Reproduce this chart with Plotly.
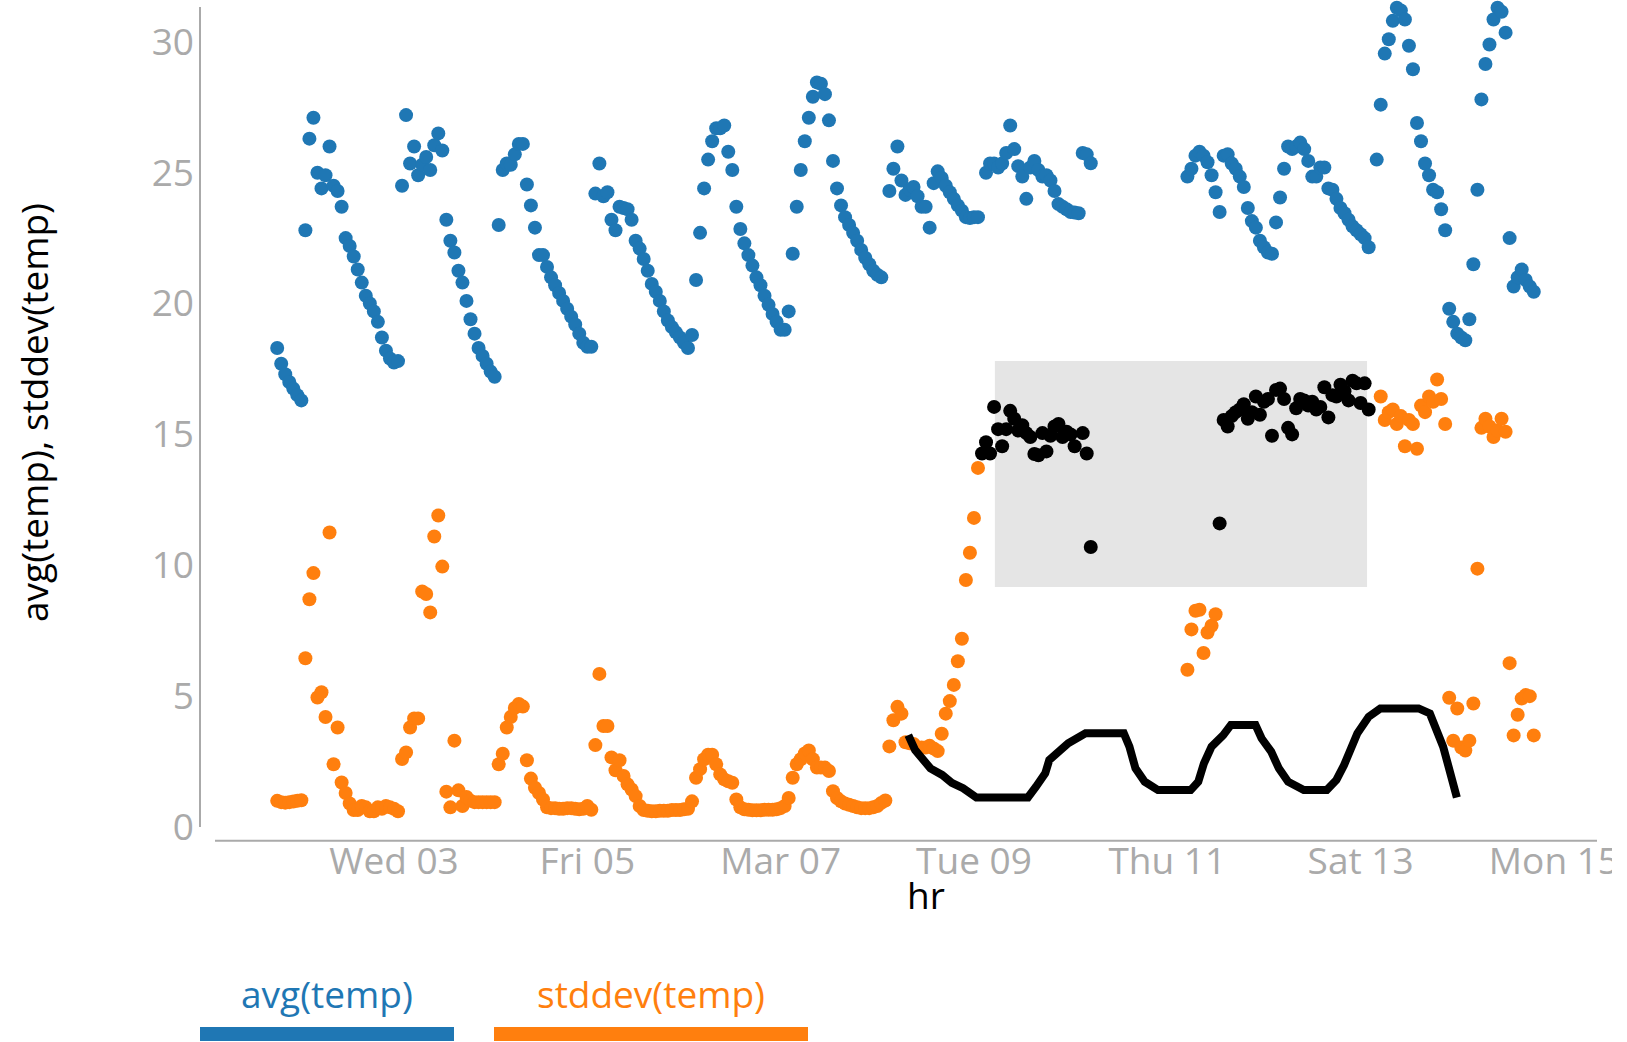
import pandas as pd
import plotly.graph_objects as go

BASE = pd.Timestamp("2021-03-01 00:00")

# ---------------- data (hours since 2021-03-01 00:00) ----------------
avg_hours = (list(range(19, 170)) + list(range(171, 194)) + list(range(195, 222))
             + list(range(245, 291)) + list(range(292, 332)))
avg_values = [
    18.3, 17.7, 17.3, 17.0, 16.75, 16.5, 16.3,
    22.8, 26.3, 27.1, 25.0, 24.4, 24.9, 26.0, 24.5, 24.3, 23.7, 22.5, 22.2, 21.8, 21.3, 20.8, 20.3,
    20.0, 19.7, 19.3, 18.7, 18.2, 17.9, 17.75, 17.8,
    24.5, 27.2, 25.35, 26.0, 24.9, 25.3, 25.6, 25.1, 26.05, 26.5, 25.85, 23.2, 22.4, 21.95, 21.25,
    20.8, 20.1, 19.4, 18.85, 18.3, 18.0, 17.7, 17.4, 17.2,
    23.0, 25.1, 25.35, 25.3, 25.7, 26.1, 26.1, 24.55, 23.75, 22.9, 21.85, 21.85, 21.4, 21.0, 20.7,
    20.4, 20.1, 19.8, 19.5, 19.2, 18.85, 18.5, 18.35, 18.35,
    24.2, 25.35, 24.1, 24.25, 23.2, 22.8, 23.7, 23.65, 23.6, 23.2, 22.4, 22.1, 21.7, 21.25, 20.75,
    20.45, 20.1, 19.7, 19.35, 19.1, 18.9, 18.7, 18.5, 18.3, 18.8,
    20.9, 22.7, 24.4, 25.5, 26.2, 26.7, 26.7, 26.8, 25.8, 25.1, 23.7, 22.85, 22.3, 21.85, 21.45,
    21.0, 20.7, 20.3, 19.95, 19.6, 19.3, 19.0, 19.0, 19.7,
    21.9, 23.7, 25.1, 26.2, 27.1, 27.9, 28.45, 28.4, 28.0, 27.0, 25.45, 24.4, 23.75, 23.3, 23.0,
    22.7, 22.4, 22.05, 21.75, 21.5, 21.25, 21.1, 21.0,
    24.3, 25.15, 26.0, 24.7, 24.15, 24.35, 24.45, 24.1, 23.7, 23.7, 22.9, 24.6, 25.05, 24.8, 24.5,
    24.25, 24.0, 23.75, 23.55, 23.3, 23.27, 23.3, 23.3,
    25.0, 25.35, 25.35, 25.2, 25.35, 25.75, 26.8, 25.9, 25.25, 24.85, 24.0, 25.2, 25.45, 25.1, 24.85,
    24.9, 24.7, 24.3, 23.8, 23.7, 23.6, 23.5, 23.48, 23.45, 25.75, 25.7, 25.36,
    24.85, 25.15, 25.65, 25.8, 25.65, 25.4, 24.9, 24.25, 23.5, 25.65, 25.7, 25.35, 25.15, 24.85, 24.45,
    23.65, 23.15, 22.9, 22.4, 22.15, 21.95, 21.9, 23.1, 24.05, 25.15, 26.0, 25.9, 26.0, 26.15, 25.9,
    25.45, 24.85, 24.85, 25.2, 25.2, 24.4, 24.35, 24.0, 23.65, 23.45, 23.2, 22.95, 22.8, 22.65, 22.5,
    22.15,
    25.5, 27.6, 29.55, 30.1, 30.8, 31.3, 31.2, 30.85, 29.85, 28.95, 26.9, 26.2, 25.35, 24.9, 24.35,
    24.25, 23.6, 22.8, 19.8, 19.3, 18.85, 18.7, 18.6, 19.4, 21.5, 24.35, 27.8, 29.15, 29.9, 30.85,
    31.3, 31.15, 30.35, 22.5, 20.65, 21.0, 21.3, 20.9, 20.65, 20.45,
]

std_hours = (list(range(19, 194)) + list(range(245, 253)) + list(range(293, 332)))
std_values = [
    1.0, 0.95, 0.93, 0.95, 0.97, 1.0, 1.02,
    6.45, 8.7, 9.7, 4.95, 5.15, 4.2, 11.25, 2.4, 3.8, 1.7, 1.3, 0.9, 0.65, 0.65, 0.8, 0.75, 0.6, 0.6,
    0.75, 0.7, 0.8, 0.75, 0.7, 0.6,
    2.6, 2.85, 3.8, 4.15, 4.15, 9.0, 8.9, 8.2, 11.1, 11.9, 9.95, 1.35, 0.75, 3.3, 1.4, 0.8, 1.15, 1.0,
    0.95, 0.95, 0.95, 0.95, 0.95, 0.95,
    2.4, 2.8, 3.8, 4.2, 4.55, 4.7, 4.6, 2.55, 1.85, 1.5, 1.3, 1.05, 0.75, 0.72, 0.72, 0.7, 0.7, 0.72,
    0.72, 0.7, 0.68, 0.7, 0.8, 0.66,
    3.13, 5.85, 3.86, 3.86, 2.66, 2.17, 2.55, 1.95, 1.63, 1.43, 1.18, 0.8, 0.65, 0.62, 0.6, 0.6, 0.62,
    0.62, 0.62, 0.65, 0.65, 0.65, 0.68, 0.7, 0.98,
    1.88, 2.21, 2.59, 2.76, 2.76, 2.4, 2.01, 1.82, 1.75, 1.69, 1.05, 0.75, 0.68, 0.66, 0.64, 0.64, 0.64,
    0.66, 0.66, 0.66, 0.68, 0.72, 0.8, 1.11,
    1.88, 2.4, 2.59, 2.81, 2.92, 2.59, 2.27, 2.27, 2.27, 2.14, 1.37, 1.11, 0.98, 0.9, 0.85, 0.8, 0.75,
    0.72, 0.72, 0.72, 0.75, 0.8, 0.92, 1.01,
    3.08, 4.08, 4.59, 4.33, 3.24, 3.2, 3.17, 3.04, 3.04, 3.04, 3.1, 3.0, 2.9, 3.56, 4.33, 4.81, 5.43,
    6.33, 7.19, 9.44, 10.48, 11.81, 13.72,
    6.01, 7.55, 8.26, 8.3, 6.65, 7.43, 7.69, 8.13,
    16.45, 15.55, 15.85, 15.95, 15.4, 15.7, 14.55, 15.55, 15.4, 14.45, 16.1, 15.85, 16.45, 16.25, 17.1,
    16.35, 15.4, 4.94, 3.3, 4.53, 3.04, 2.92, 3.3, 4.72, 9.87, 15.25, 15.6, 15.3, 14.9, 15.15, 15.6,
    15.1, 6.26, 3.5, 4.29, 4.91, 5.04, 5.0, 3.5,
]

# stddev points highlighted (black)
sel_hours = (list(range(194, 218)) + [219, 220, 221] + list(range(253, 291)))
sel_values = [
    14.27, 14.7, 14.27, 16.05, 15.2, 14.55, 15.2, 15.9, 15.6, 15.15, 15.35, 15.05, 14.9, 14.25, 14.2,
    15.05, 14.35, 14.95, 15.3, 15.4, 14.9, 15.1, 15.0, 14.55,
    15.05, 14.27, 10.7,
    11.6, 15.55, 15.3, 15.7, 15.85, 15.95, 16.15, 15.6, 15.85, 16.45, 15.75, 16.25, 16.35, 14.95, 16.7,
    16.75, 16.35, 15.25, 15.0, 16.0, 16.35, 16.3, 16.1, 16.25, 15.95, 16.05, 16.8, 15.65, 16.5, 16.45,
    16.9, 16.65, 16.3, 17.05, 16.95, 16.2, 16.95, 15.95,
]

# smoothed black line
line_hours = [175.7, 177.4, 181.2, 184.1, 186.5, 189.3, 192.6, 205.4, 207.4, 209.7, 210.7, 215.4,
              219.7, 229.2, 230.6, 232.1, 234.4, 236.8, 237.7, 245.8, 247.7, 249.1, 251.0, 253.9,
              255.8, 261.9, 263.4, 265.8, 267.7, 270.0, 273.9, 279.6, 282.0, 283.9, 285.7, 287.2,
              290.0, 292.9, 302.4, 305.2, 308.5, 310.4, 311.9]
line_values = [3.51, 2.94, 2.24, 1.99, 1.69, 1.48, 1.13, 1.13, 1.54, 2.05, 2.56, 3.2,
               3.58, 3.58, 3.07, 2.24, 1.73, 1.54, 1.41, 1.41, 1.73, 2.43, 3.07, 3.51,
               3.9, 3.9, 3.39, 2.88, 2.24, 1.73, 1.41, 1.41, 1.8, 2.37, 2.94, 3.58,
               4.21, 4.53, 4.53, 4.34, 3.07, 2.05, 1.13]

# brush (interval selection) extent
brush_hours = [197.2, 289.6]
brush_values = [9.17, 17.8]

x_range_hours = [3.56, 346.2]
y_range = [0, 31.33]
y_ticks = [0, 5, 10, 15, 20, 25, 30]
x_tick_dates = ["2021-03-03", "2021-03-05", "2021-03-07", "2021-03-09",
                "2021-03-11", "2021-03-13", "2021-03-15"]
x_tick_labels = ["Wed 03", "Fri 05", "Mar 07", "Tue 09", "Thu 11", "Sat 13", "Mon 15"]
legend_labels = ["avg(temp)", "stddev(temp)"]

BLUE = "#1f77b4"
ORANGE = "#ff7f0e"
GRAY = "#aaaaaa"
FONT = "Open Sans"
MSIZE = 14


def to_time(hours):
    return BASE + pd.to_timedelta(pd.Series(hours, dtype=float), unit="h")


W, H = 1627, 1042
ML, MR, MT, MB = 215, 32, 7, 215
PW, PH = W - ML - MR, H - MT - MB


def px_x(p):
    return (p - ML) / PW


def px_y(p):
    return (H - MB - p) / PH


fig = go.Figure()
fig.add_trace(go.Scatter(x=to_time(avg_hours), y=avg_values, mode="markers", cliponaxis=False,
                         marker=dict(size=MSIZE, color=BLUE, line=dict(width=0)),
                         name=legend_labels[0]))
fig.add_trace(go.Scatter(x=to_time(std_hours), y=std_values, mode="markers", cliponaxis=False,
                         marker=dict(size=MSIZE, color=ORANGE, line=dict(width=0)),
                         name=legend_labels[1]))
fig.add_trace(go.Scatter(x=to_time(sel_hours), y=sel_values, mode="markers", cliponaxis=False,
                         marker=dict(size=MSIZE, color="black", line=dict(width=0)),
                         name="selected"))
fig.add_trace(go.Scatter(x=to_time(line_hours), y=line_values, mode="lines", cliponaxis=False,
                         line=dict(color="black", width=8), name="trend"))

bt = to_time(brush_hours)
shapes = [
    dict(type="rect", xref="x", yref="y", x0=bt[0], x1=bt[1], y0=brush_values[0],
         y1=brush_values[1], fillcolor="#e5e5e5", line=dict(width=0), layer="below"),
    # offset axis lines
    dict(type="line", xref="paper", yref="paper", x0=px_x(200), x1=px_x(200), y0=0, y1=1,
         line=dict(color=GRAY, width=2)),
    dict(type="line", xref="paper", yref="paper", x0=0, x1=px_x(1597), y0=px_y(840.7),
         y1=px_y(840.7), line=dict(color=GRAY, width=2)),
    # legend swatches
    dict(type="rect", xref="paper", yref="paper", x0=px_x(200), x1=px_x(454), y0=px_y(1041),
         y1=px_y(1027), fillcolor=BLUE, line=dict(width=0)),
    dict(type="rect", xref="paper", yref="paper", x0=px_x(494), x1=px_x(808), y0=px_y(1041),
         y1=px_y(1027), fillcolor=ORANGE, line=dict(width=0)),
    # canvas clip at right edge
    dict(type="rect", xref="paper", yref="paper", x0=px_x(1612), x1=px_x(1630), y0=px_y(900),
         y1=px_y(843), fillcolor="white", line=dict(width=0), layer="above"),
]

annotations = [
    dict(text="hr", xref="paper", yref="paper", x=px_x(926), y=px_y(894), showarrow=False,
         xanchor="center", yanchor="middle", font=dict(family=FONT, size=37, color="black")),
    dict(text="avg(temp), stddev(temp)", xref="paper", yref="paper", x=px_x(33), y=px_y(413),
         showarrow=False, textangle=-90, xanchor="center", yanchor="middle",
         font=dict(family=FONT, size=37, color="black")),
    dict(text=legend_labels[0], xref="paper", yref="paper", x=px_x(327), y=px_y(993),
         showarrow=False, xanchor="center", yanchor="middle",
         font=dict(family=FONT, size=37, color=BLUE)),
    dict(text=legend_labels[1], xref="paper", yref="paper", x=px_x(651), y=px_y(993),
         showarrow=False, xanchor="center", yanchor="middle",
         font=dict(family=FONT, size=37, color=ORANGE)),
]

xr = to_time(x_range_hours)
fig.update_layout(
    width=W, height=H,
    margin=dict(l=ML, r=MR, t=MT, b=MB, pad=0),
    paper_bgcolor="white", plot_bgcolor="white",
    showlegend=False,
    shapes=shapes, annotations=annotations,
    font=dict(family=FONT),
    xaxis=dict(type="date", range=[xr[0], xr[1]], showgrid=False, zeroline=False,
               showline=False, ticks="", tickvals=pd.to_datetime(x_tick_dates),
               ticktext=x_tick_labels, ticklabelstandoff=9,
               tickfont=dict(family=FONT, size=37, color=GRAY)),
    yaxis=dict(range=y_range, showgrid=False, zeroline=False, showline=False, ticks="",
               tickvals=y_ticks, ticklabelstandoff=20,
               tickfont=dict(family=FONT, size=37, color=GRAY)),
)

fig.write_html("out.html", config={"displayModeBar": False},
               post_script="document.body.style.margin='0px';document.body.style.overflow='hidden';")
